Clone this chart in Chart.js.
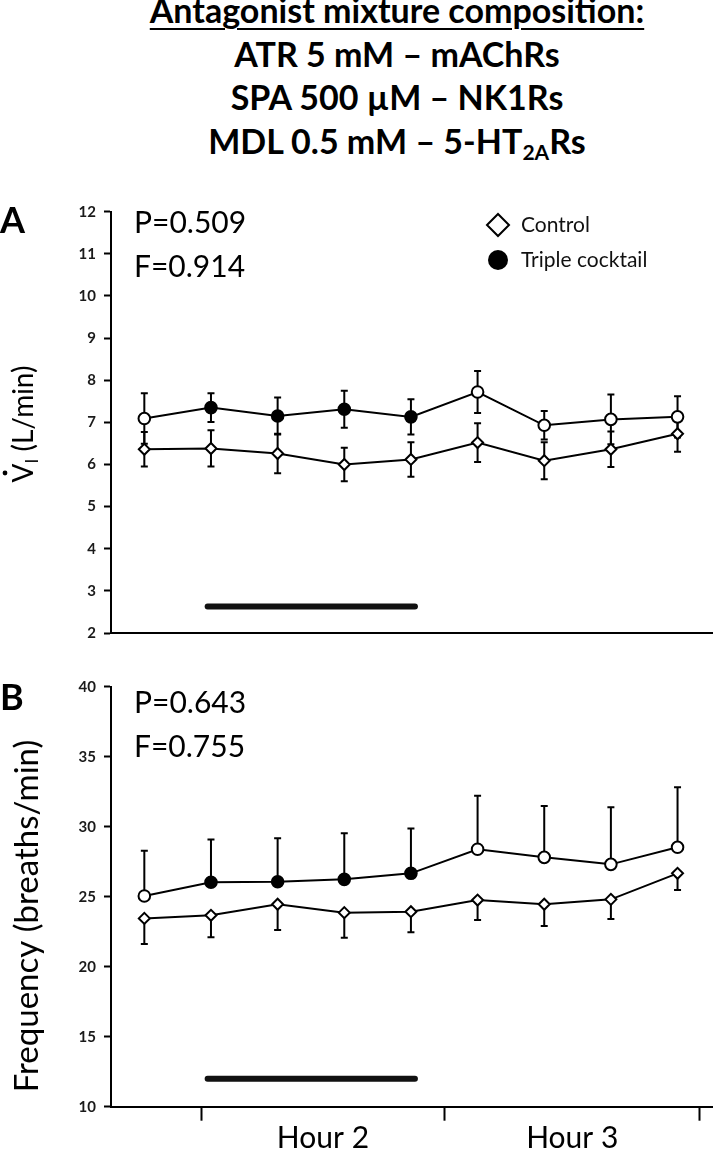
<!DOCTYPE html>
<html>
<head>
<meta charset="utf-8">
<script src="https://cdn.jsdelivr.net/npm/chart.js@4.4.1/dist/chart.umd.min.js"></script>
<style>
	html, body { margin: 0; padding: 0; background: #fff; }
	body { width: 720px; height: 1154px; position: relative; overflow: hidden; font-family: Lato, sans-serif; }
	.title { position: absolute; left: 97px; top: -12px; width: 600px; text-align: center; font-weight: bold; font-size: 34px; line-height: 43.5px; color: #000; }
	.title u { text-decoration-thickness: 2px; text-underline-offset: 5px; }
	.title sub { font-size: 0.62em; line-height: 0; vertical-align: -0.3em; }
	.panel { position: absolute; left: 0; width: 720px; }
	#wrapA { top: 180px; height: 480px; }
	#wrapB { top: 660px; height: 494px; }
</style>
</head>
<body>
<div class="title">
	<u>Antagonist mixture composition:</u><br>
	ATR 5 mM – mAChRs<br>
	SPA 500 µM – NK1Rs<br>
	MDL 0.5 mM – 5-HT<sub>2A</sub>Rs
</div>
<div class="panel" id="wrapA"><canvas id="chartA" width="720" height="480"></canvas></div>
<div class="panel" id="wrapB"><canvas id="chartB" width="720" height="494"></canvas></div>

<script>
// time points (x positions, 1..9)
const timePoints = [1, 2, 3, 4, 5, 6, 7, 8, 9];

// panel A - inspired minute ventilation (L/min)
const viControl = [6.36, 6.38, 6.26, 6.00, 6.12, 6.52, 6.09, 6.36, 6.73];
const viControlSD = [0.41, 0.43, 0.47, 0.40, 0.41, 0.46, 0.44, 0.42, 0.43];
const viTriple = [7.09, 7.35, 7.15, 7.31, 7.13, 7.72, 6.93, 7.07, 7.13];
const viTripleSD = [0.60, 0.34, 0.44, 0.44, 0.42, 0.50, 0.34, 0.59, 0.49];

// panel B - frequency (breaths/min)
const fControl = [23.45, 23.67, 24.46, 23.86, 23.93, 24.76, 24.46, 24.81, 26.67];
const fControlSD = [1.83, 1.57, 1.84, 1.79, 1.47, 1.43, 1.55, 1.40, 1.19];
const fTriple = [25.05, 26.03, 26.07, 26.24, 26.67, 28.39, 27.81, 27.31, 28.53];
const fTripleSD = [3.24, 3.05, 3.10, 3.30, 3.20, 3.82, 3.67, 4.08, 4.28];

// points where the cocktail is on (filled symbols)
const tripleFilled = [false, true, true, true, true, false, false, false, false];

// drug application bar
const cocktailSpan = [1.95, 5.06];
const cocktailLevelA = 2.63;
const cocktailLevelB = 12;

// axes
const xRange = [0.5, 9.52];
const hourTicks = [1.856, 5.508, 9.33];
const hourLabelPos = [3.68, 7.42];
const hourLabels = ['Hour 2', 'Hour 3'];
const viRange = [2, 12];
const fRange = [10, 40];

const statsA = ['P=0.509', 'F=0.914'];
const statsB = ['P=0.643', 'F=0.755'];
const legendLabels = ['Control', 'Triple cocktail'];

function points(values) {
	return values.map((v, i) => ({x: timePoints[i], y: v}));
}

const errorBars = {
	id: 'errorBars',
	beforeDatasetsDraw(chart, args, opts) {
		const {ctx, scales: {x, y}} = chart;
		ctx.save();
		ctx.strokeStyle = '#000';
		ctx.lineWidth = 2;
		opts.sets.forEach(s => {
			s.mean.forEach((m, i) => {
				const px = x.getPixelForValue(timePoints[i]);
				const lo = y.getPixelForValue(m - (s.down ? s.sd[i] : 0));
				const hi = y.getPixelForValue(m + (s.up ? s.sd[i] : 0));
				ctx.beginPath();
				ctx.moveTo(px, lo);
				ctx.lineTo(px, hi);
				if (s.up) { ctx.moveTo(px - 3.5, hi); ctx.lineTo(px + 3.5, hi); }
				if (s.down) { ctx.moveTo(px - 3.5, lo); ctx.lineTo(px + 3.5, lo); }
				ctx.stroke();
			});
		});
		ctx.restore();
	}
};

const panelText = {
	id: 'panelText',
	afterDraw(chart, args, opts) {
		const ctx = chart.ctx;
		ctx.save();
		ctx.fillStyle = '#000';
		ctx.textBaseline = 'alphabetic';

		// panel letter
		ctx.font = 'bold 36px Lato';
		ctx.textAlign = 'left';
		ctx.fillText(opts.letter, 0, opts.letterY);

		// stats
		ctx.font = '30px Lato';
		opts.stats.forEach((t, i) => ctx.fillText(t, 134, opts.statsY + i * 44));

		// y axis title, rotated
		ctx.translate(opts.yTitleX, opts.yTitleY);
		ctx.rotate(-Math.PI / 2);
		const parts = opts.yTitle;
		let total = 0;
		parts.forEach(p => { ctx.font = p.font; total += ctx.measureText(p.text).width; });
		let cx = -total / 2;
		parts.forEach(p => {
			ctx.font = p.font;
			const w = ctx.measureText(p.text).width;
			ctx.fillText(p.text, cx, p.dy || 0);
			if (p.dot) {
				ctx.beginPath();
				ctx.arc(cx + w / 2, -28, 2.4, 0, Math.PI * 2);
				ctx.fill();
			}
			cx += w;
		});
		ctx.restore();

		// legend
		if (opts.legend) {
			ctx.save();
			ctx.strokeStyle = '#000';
			ctx.lineWidth = 2;
			ctx.fillStyle = '#fff';
			Chart.helpers.drawPoint(ctx, {pointStyle: 'rectRot', radius: 11, borderWidth: 2}, 498, 45);
			ctx.fillStyle = '#000';
			Chart.helpers.drawPoint(ctx, {pointStyle: 'circle', radius: 10, borderWidth: 0}, 498, 80);
			ctx.font = '21px Lato';
			ctx.fillStyle = '#111';
			ctx.textBaseline = 'middle';
			ctx.fillText(legendLabels[0], 521, 45);
			ctx.fillText(legendLabels[1], 521, 80);
			ctx.restore();
		}
	}
};

function buildDatasets(control, triple, barLevel) {
	return [
		{
			data: [{x: cocktailSpan[0], y: barLevel}, {x: cocktailSpan[1], y: barLevel}],
			borderColor: '#111',
			borderWidth: 6,
			borderCapStyle: 'round',
			pointRadius: 0
		},
		{
			label: legendLabels[0],
			data: points(control),
			borderColor: '#000',
			borderWidth: 2,
			pointStyle: 'rectRot',
			pointRadius: 5.5,
			pointBorderWidth: 2,
			pointBorderColor: '#000',
			pointBackgroundColor: '#fff'
		},
		{
			label: legendLabels[1],
			data: points(triple),
			borderColor: '#000',
			borderWidth: 2,
			pointStyle: 'circle',
			pointRadius: 5.8,
			pointBorderWidth: 2,
			pointBorderColor: '#000',
			pointBackgroundColor: tripleFilled.map(f => f ? '#000' : '#fff')
		}
	];
}

function yScale(range, step) {
	return {
		min: range[0],
		max: range[1],
		afterFit: scale => { scale.width = 111; },
		border: {display: true, color: '#000', width: 2},
		grid: {drawOnChartArea: false, drawTicks: true, tickLength: 7, tickWidth: 2, tickColor: '#000'},
		ticks: {stepSize: step, padding: 8, color: '#1a1a1a', font: {family: 'Lato', weight: 'bold', size: 15}}
	};
}

// panel A
new Chart(document.getElementById('chartA'), {
	type: 'line',
	data: {datasets: buildDatasets(viControl, viTriple, cocktailLevelA)},
	options: {
		responsive: false,
		animation: false,
		events: [],
		layout: {padding: {top: 31.7, bottom: 27, left: 0, right: 4}},
		plugins: {
			legend: {display: false},
			tooltip: {enabled: false},
			errorBars: {sets: [
				{mean: viControl, sd: viControlSD, up: true, down: true},
				{mean: viTriple, sd: viTripleSD, up: true, down: true}
			]},
			panelText: {
				letter: 'A', letterY: 53, stats: statsA, statsY: 53,
				yTitleX: 33, yTitleY: 244,
				yTitle: [
					{text: 'V', font: '28px Lato', dot: true},
					{text: 'I', font: '17px Lato', dy: 5},
					{text: ' (L/min)', font: '28px Lato'}
				],
				legend: true
			}
		},
		scales: {
			x: {
				type: 'linear', min: xRange[0], max: xRange[1],
				afterFit: scale => { scale.height = 0; },
				border: {display: true, color: '#000', width: 2},
				grid: {display: false},
				ticks: {display: false}
			},
			y: yScale(viRange, 1)
		}
	},
	plugins: [errorBars, panelText]
});

// panel B
new Chart(document.getElementById('chartB'), {
	type: 'line',
	data: {datasets: buildDatasets(fControl, fTriple, cocktailLevelB)},
	options: {
		responsive: false,
		animation: false,
		events: [],
		layout: {padding: {top: 26.7, bottom: 0, left: 0, right: 2}},
		plugins: {
			legend: {display: false},
			tooltip: {enabled: false},
			errorBars: {sets: [
				{mean: fControl, sd: fControlSD, up: false, down: true},
				{mean: fTriple, sd: fTripleSD, up: true, down: false}
			]},
			panelText: {
				letter: 'B', letterY: 50, stats: statsB, statsY: 53,
				yTitleX: 38, yTitleY: 256,
				yTitle: [{text: 'Frequency (breaths/min)', font: '33px Lato'}],
				legend: false
			}
		},
		scales: {
			x: {
				type: 'linear', min: xRange[0], max: xRange[1],
				afterFit: scale => { scale.height = 47.3; },
				afterBuildTicks: scale => {
					scale.ticks = hourTicks.concat(hourLabelPos).sort((a, b) => a - b).map(v => ({value: v}));
				},
				border: {display: true, color: '#000', width: 2},
				grid: {
					drawOnChartArea: false, drawTicks: true, tickLength: 14, tickWidth: 2,
					tickColor: ctx => hourLabelPos.includes(ctx.tick.value) ? 'rgba(0,0,0,0)' : '#000'
				},
				ticks: {
					autoSkip: false, maxRotation: 0, padding: 0, color: '#000',
					font: {family: 'Lato', size: 30},
					callback: value => {
						const i = hourLabelPos.indexOf(value);
						return i >= 0 ? hourLabels[i] : '';
					}
				}
			},
			y: yScale(fRange, 5)
		}
	},
	plugins: [errorBars, panelText]
});
</script>
</body>
</html>
